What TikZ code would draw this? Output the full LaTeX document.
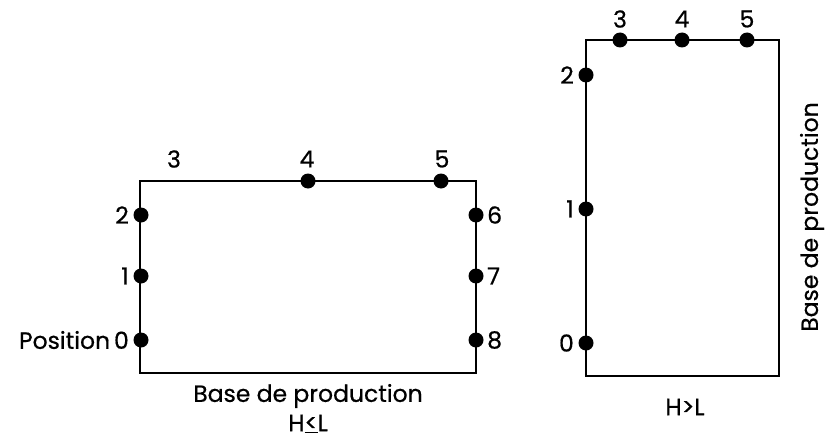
\documentclass[tikz,border=0pt]{standalone}
\usepackage{fontspec}
\setmainfont{Poppins}[FakeBold=0.6]
\begin{document}
\begin{tikzpicture}[x=1pt,y=-1pt,
  pt/.style={circle,fill=black,inner sep=0pt,minimum size=15pt},
  lbl/.style={font=\fontsize{23.5}{26}\selectfont,inner sep=0pt},
  frame/.style={draw=black,line width=1.7pt}]
\useasboundingbox (0,0) rectangle (829,444);
% left rectangle
\draw[frame] (140,181) rectangle (476,373);
\node[pt] (a0) at (141,340) {};
\node[pt] (a1) at (141,276) {};
\node[pt] (a2) at (141,215) {};
\node[pt] (a4) at (308,181) {};
\node[pt] (a5) at (441,181) {};
\node[pt] (a6) at (476,215) {};
\node[pt] (a7) at (476,276) {};
\node[pt] (a8) at (476,340) {};
\node[lbl,anchor=east] (l0) at (129,340) {Position\,0};
\node[lbl,anchor=east] (l1) at (129,276) {1};
\node[lbl,anchor=east] (l2) at (129,215) {2};
\node[lbl] (l3) at (174,159) {3};
\node[lbl] (l4) at (307,159) {4};
\node[lbl] (l5) at (442,159) {5};
\node[lbl,anchor=west] (l6) at (487,215) {6};
\node[lbl,anchor=west] (l7) at (487,276) {7};
\node[lbl,anchor=west] (l8) at (487,340) {8};
\node[lbl] (bp1) at (308,396) {Base de production};
\node[lbl] (hl1) at (308,424) {H\underline{<}L};
% right rectangle
\draw[frame] (586,40) rectangle (779,376);
\node[pt] (b0) at (586,343) {};
\node[pt] (b1) at (586,209) {};
\node[pt] (b2) at (586,75) {};
\node[pt] (b3) at (620,40) {};
\node[pt] (b4) at (682,40) {};
\node[pt] (b5) at (747,40) {};
\node[lbl,anchor=east] (m0) at (574,343) {0};
\node[lbl,anchor=east] (m1) at (574,209) {1};
\node[lbl,anchor=east] (m2) at (574,75) {2};
\node[lbl] (m3) at (620,19) {3};
\node[lbl] (m4) at (682,19) {4};
\node[lbl] (m5) at (747,19) {5};
\node[lbl] (hl2) at (685,407) {H>L};
\node[lbl,rotate=90] (bp2) at (812,217) {Base de production};
\end{tikzpicture}
\end{document}
